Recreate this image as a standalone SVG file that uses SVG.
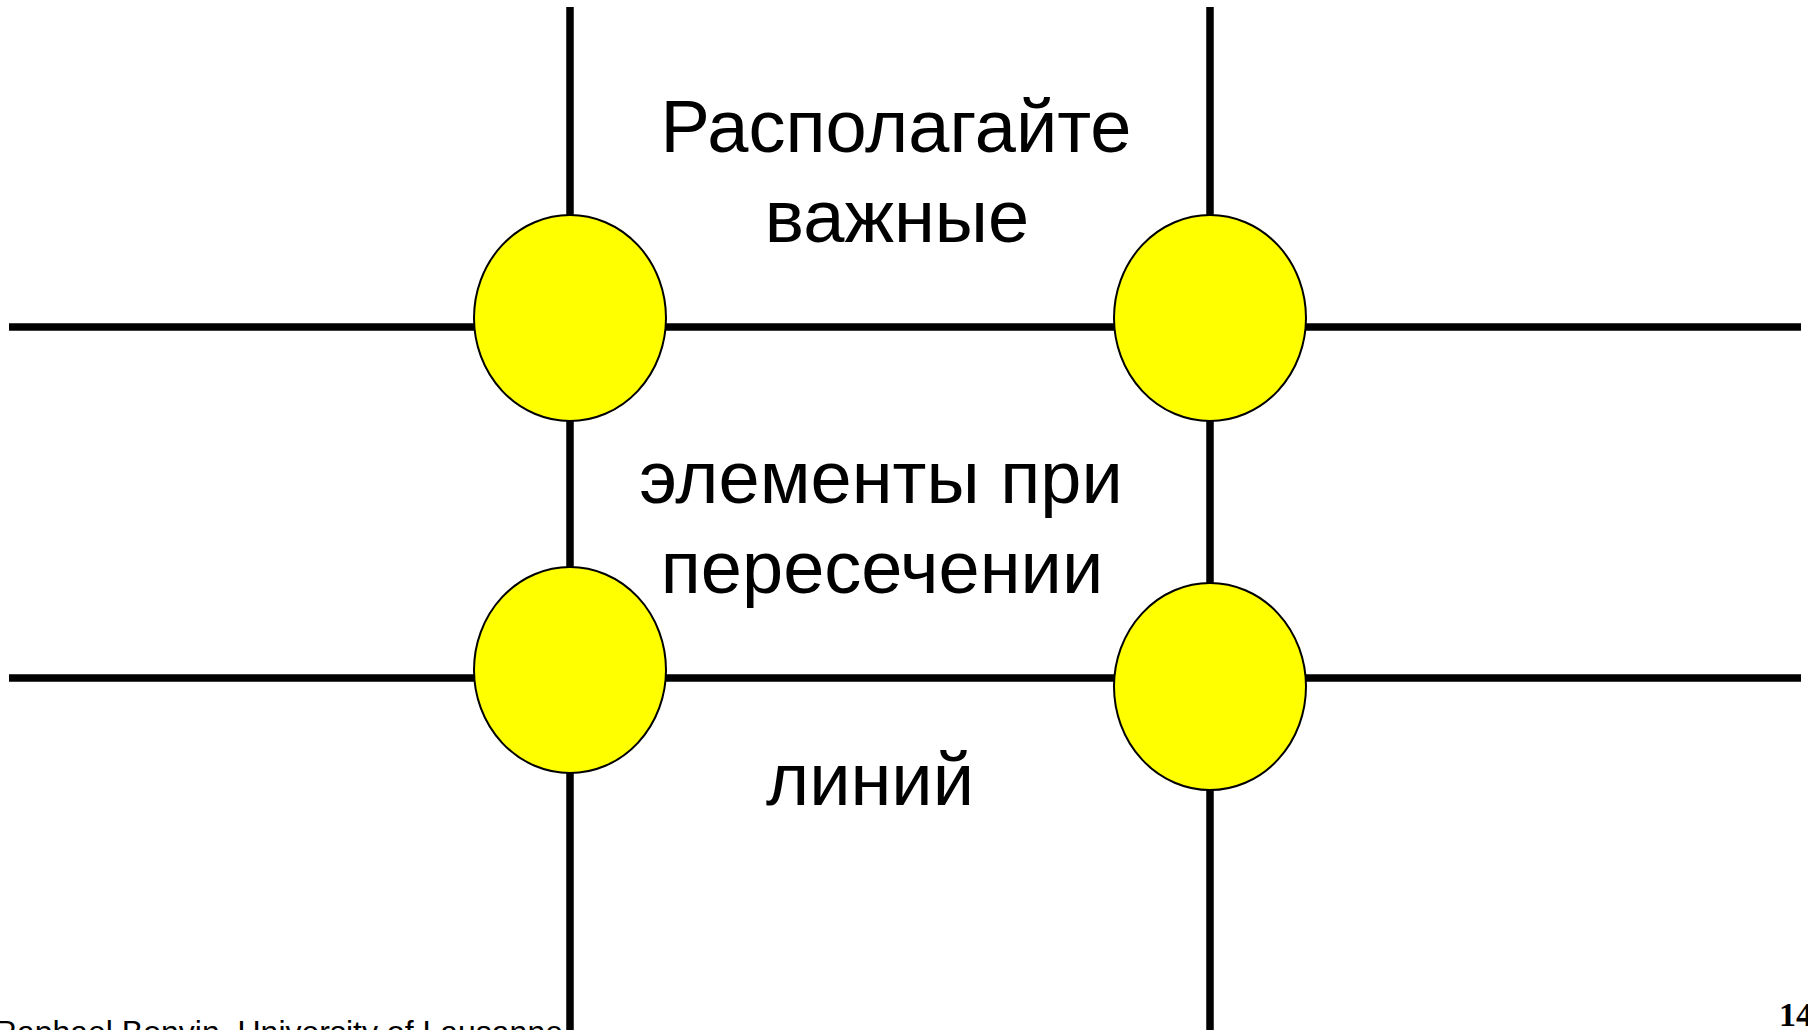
<svg xmlns="http://www.w3.org/2000/svg" width="1808" height="1030" viewBox="0 0 1808 1030">
  <style>
    .grid { stroke: #000000; stroke-width: 7.5; fill: none; }
    .node { fill: #FFFF00; stroke: #000000; stroke-width: 2; }
    .label { font-family: "Liberation Sans", Arial, sans-serif; font-size: 74px; fill: #000000; text-anchor: middle; }
    .footer { font-family: "Liberation Sans", Arial, sans-serif; font-size: 32px; fill: #000000; }
    .page { font-family: "Liberation Serif", "Times New Roman", serif; font-size: 34px; font-weight: bold; fill: #000000; }
  </style>
  <rect x="0" y="0" width="1808" height="1030" fill="#FFFFFF"/>
  <g id="connectors">
    <line class="grid" x1="570" y1="7" x2="570" y2="1030"/>
    <line class="grid" x1="1210" y1="7" x2="1210" y2="1030"/>
    <line class="grid" x1="9" y1="327" x2="1801" y2="327"/>
    <line class="grid" x1="9" y1="678" x2="1801" y2="678"/>
  </g>
  <g id="node-top-left">
    <ellipse class="node" cx="570" cy="318" rx="96" ry="103"/>
  </g>
  <g id="node-top-right">
    <ellipse class="node" cx="1210" cy="318" rx="96" ry="103"/>
  </g>
  <g id="node-bottom-left">
    <ellipse class="node" cx="570" cy="670" rx="96" ry="103"/>
  </g>
  <g id="node-bottom-right">
    <ellipse class="node" cx="1210" cy="686.5" rx="96" ry="103.5"/>
  </g>
  <g id="caption">
    <text class="label" x="896" y="152">Располагайте</text>
    <text class="label" x="897" y="242">важные</text>
    <text class="label" x="881" y="503">элементы при</text>
    <text class="label" x="882" y="593">пересечении</text>
    <text class="label" x="870" y="805">линий</text>
  </g>
  <g id="footer">
    <text class="footer" x="563" y="1043" text-anchor="end">Raphael Bonvin, University of Lausanne</text>
    <text class="page" x="1779" y="1026">14</text>
  </g>
</svg>
